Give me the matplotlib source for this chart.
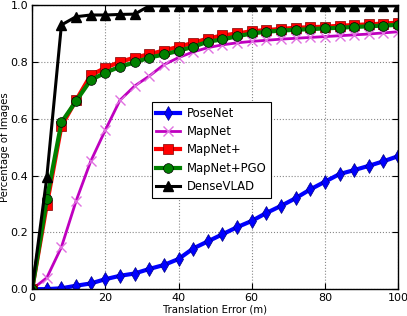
import numpy as np
import matplotlib
matplotlib.use('Agg')
import matplotlib.pyplot as plt

# translation error thresholds (m)
thresholds = list(range(0, 101, 4))

posenet = [0.0, 0.0, 0.003, 0.012, 0.02, 0.035, 0.047, 0.055, 0.071, 0.085, 0.106, 0.143, 0.168,
           0.193, 0.218, 0.24, 0.268, 0.293, 0.32, 0.351, 0.378, 0.405, 0.419, 0.434, 0.45, 0.468]
mapnet = [0.0, 0.04, 0.148, 0.31, 0.45, 0.56, 0.665, 0.715, 0.75, 0.79, 0.815, 0.835, 0.85,
          0.86, 0.867, 0.872, 0.876, 0.88, 0.883, 0.886, 0.889, 0.892, 0.895, 0.898, 0.902, 0.906]
mapnet_plus = [0.0, 0.296, 0.574, 0.665, 0.753, 0.779, 0.8, 0.815, 0.827, 0.84, 0.853, 0.867, 0.882,
               0.893, 0.9, 0.908, 0.912, 0.916, 0.92, 0.922, 0.924, 0.927, 0.93, 0.932, 0.935, 0.938]
mapnet_pgo = [0.0, 0.316, 0.587, 0.662, 0.736, 0.762, 0.783, 0.798, 0.815, 0.826, 0.839, 0.853, 0.871,
              0.879, 0.89, 0.9, 0.906, 0.91, 0.913, 0.915, 0.918, 0.92, 0.923, 0.925, 0.928, 0.93]
densevlad = [0.0, 0.393, 0.93, 0.959, 0.965, 0.965, 0.967, 0.968, 0.997, 0.997, 0.997, 0.997, 0.997,
             0.997, 0.997, 0.997, 0.997, 0.997, 0.997, 0.997, 0.997, 0.997, 0.997, 0.997, 0.997, 0.997]

fig = plt.figure(figsize=(4.07, 3.16), dpi=100)
ax = fig.add_axes([0.079, 0.085, 0.899, 0.899])

ax.plot(thresholds, posenet, color='#0000ff', lw=3, marker='d', ms=7, mec='#000080', mew=0.5, label='PoseNet')
ax.plot(thresholds, mapnet, color='#bf00bf', lw=2, marker='x', ms=7, mec='#e070e0', mew=1, label='MapNet')
ax.plot(thresholds, mapnet_plus, color='#ff0000', lw=3, marker='s', ms=7, mec='#800000', mew=0.5, label='MapNet+')
ax.plot(thresholds, mapnet_pgo, color='#008000', lw=3, marker='o', ms=7, mec='k', mew=0.5, label='MapNet+PGO')
ax.plot(thresholds, densevlad, color='k', lw=2.2, marker='^', ms=7, mec='k', label='DenseVLAD')

ax.set_xlim(0, 100)
ax.set_ylim(0, 1.0)
ax.set_xticks([0, 20, 40, 60, 80, 100])
ax.set_yticks([0.0, 0.2, 0.4, 0.6, 0.8, 1.0])
ax.grid(True, linestyle=':', color='#888888', lw=0.8)
ax.tick_params(direction='in', top=True, right=True, labelsize=8, length=4, pad=3)
ax.set_xlabel('Translation Error (m)', fontsize=7.3, labelpad=1)
ax.set_ylabel('Percentage of Images', fontsize=7.3, labelpad=0)
for s in ax.spines.values():
    s.set_linewidth(1)

leg = ax.legend(loc='center', bbox_to_anchor=(0.49, 0.49), fontsize=8.4, fancybox=False,
                framealpha=1, edgecolor='k', handlelength=2.0, borderpad=0.4, labelspacing=0.45,
                handletextpad=0.6)
leg.get_frame().set_linewidth(0.8)

fig.savefig('out.png', dpi=100)
